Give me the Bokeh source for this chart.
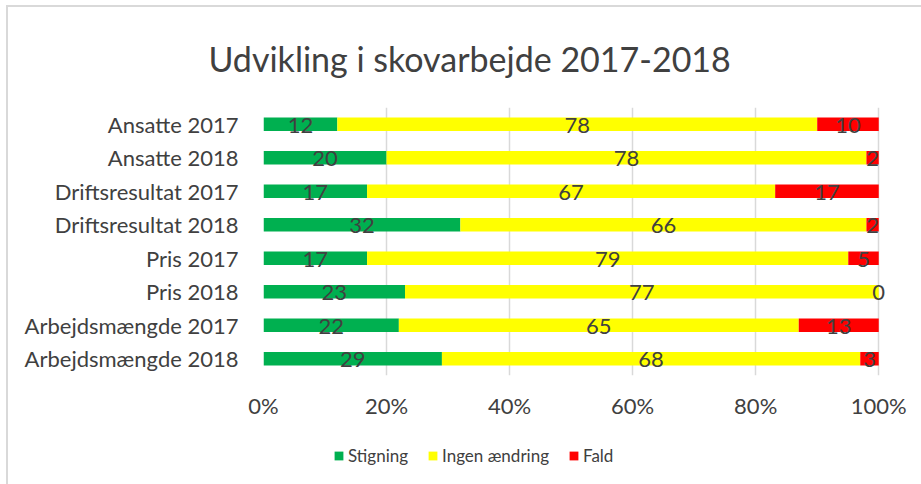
from bokeh.plotting import figure
from bokeh.layouts import column
from bokeh.models import FactorRange, Range1d, Legend, LegendItem, NumeralTickFormatter, ColumnDataSource, Title
from bokeh.core.properties import value
from bokeh.embed import file_html
from bokeh.resources import INLINE

categories = ["Ansatte 2017", "Ansatte 2018", "Driftsresultat 2017", "Driftsresultat 2018",
              "Pris 2017", "Pris 2018", "Arbejdsmængde 2017", "Arbejdsmængde 2018"]
stigning = [12, 20, 17, 32, 17, 23, 22, 29]
ingen = [78, 78, 67, 66, 79, 77, 65, 68]
fald = [10, 2, 17, 2, 5, 0, 13, 3]
series_names = ["Stigning", "Ingen ændring", "Fald"]
colors = ["#00B050", "#FFFF00", "#FF0000"]
title_text = "Udvikling i skovarbejde 2017-2018"
x_ticks = [0, 0.2, 0.4, 0.6, 0.8, 1.0]

FONT = "Lato"
TXT = "#404040"

totals = [a + b + c for a, b, c in zip(stigning, ingen, fald)]
s_share = [a / t for a, t in zip(stigning, totals)]
i_share = [b / t for b, t in zip(ingen, totals)]
f_share = [c / t for c, t in zip(fald, totals)]

src = ColumnDataSource(dict(cat=categories, s=s_share, i=i_share, f=f_share))

OX, OY = 8, 7  # offset of the content inside the light grey chart border
W = 921 - OX
H_MAIN = 440 - OY
H_LEG = 484 - 440

p = figure(width=W, height=H_MAIN, output_backend="svg", toolbar_location=None,
           y_range=FactorRange(*reversed(categories), range_padding=0),
           x_range=Range1d(0, 1.05),
           min_border_left=263 - OX, min_border_right=12, min_border_top=105 - OY,
           min_border_bottom=H_MAIN - (375 - OY))
p.outline_line_color = None
p.background_fill_color = "white"
p.border_fill_color = "white"

rs = p.hbar_stack(["s", "i", "f"], y="cat", height=0.4, color=colors, source=src, line_width=0)

for vals, shares, offsets in [
    (stigning, s_share, [0] * 8),
    (ingen, i_share, s_share),
    (fald, f_share, [a + b for a, b in zip(s_share, i_share)]),
]:
    xs = [o + sh / 2 for o, sh in zip(offsets, shares)]
    p.text(x=xs, y=categories, text=[str(v) for v in vals], text_align="center",
           text_baseline="middle", y_offset=1, text_font=value(FONT), text_font_size="22px",
           text_color=TXT)

p.xaxis.ticker = x_ticks
p.xaxis.formatter = NumeralTickFormatter(format="0%")
for ax in (p.xaxis, p.yaxis):
    ax.axis_line_color = None
    ax.major_tick_line_color = None
    ax.minor_tick_line_color = None
    ax.major_label_text_font = FONT
    ax.major_label_text_font_size = "22px"
    ax.major_label_text_color = TXT
p.xaxis.major_label_standoff = 10
p.yaxis.major_label_standoff = 19
p.xgrid.ticker = x_ticks
p.xgrid.grid_line_color = "#D9D9D9"
p.xgrid.grid_line_width = 1.5
p.ygrid.grid_line_color = None

p.add_layout(Title(text=title_text, text_font=FONT, text_font_size="34px", text_color=TXT,
                   text_font_style="normal", align="left", offset=-55, standoff=57), "above")

# legend strip below the chart (its frame is aligned with the main frame by the column)
pl = figure(width=W, height=H_LEG, output_backend="svg", toolbar_location=None,
            x_range=Range1d(0, 1.05), y_range=FactorRange(*reversed(categories), range_padding=0),
            min_border_top=0, min_border_bottom=0)
pl.axis.visible = False
pl.grid.visible = False
pl.outline_line_color = None
leg_rs = [pl.hbar(y="cat", right=col, height=0, color=c, line_width=0, line_alpha=0, source=src)
          for col, c in zip(["s", "i", "f"], colors)]
legend = Legend(items=[LegendItem(label=n, renderers=[r]) for n, r in zip(series_names, leg_rs)],
                orientation="horizontal", location=(333 - 263, 18),
                glyph_width=11, glyph_height=11, label_standoff=4, spacing=19, padding=0, margin=0,
                label_text_font=FONT, label_text_font_size="17px", label_text_color=TXT,
                border_line_color=None, background_fill_alpha=0)
pl.add_layout(legend, "center")

layout = column(p, pl, spacing=0,
                styles={"margin-left": "6px", "margin-top": "5px",
                        "border-left": "2px solid #D9D9D9", "border-top": "2px solid #D9D9D9"})

open("out.html", "w").write(file_html(layout, INLINE))
